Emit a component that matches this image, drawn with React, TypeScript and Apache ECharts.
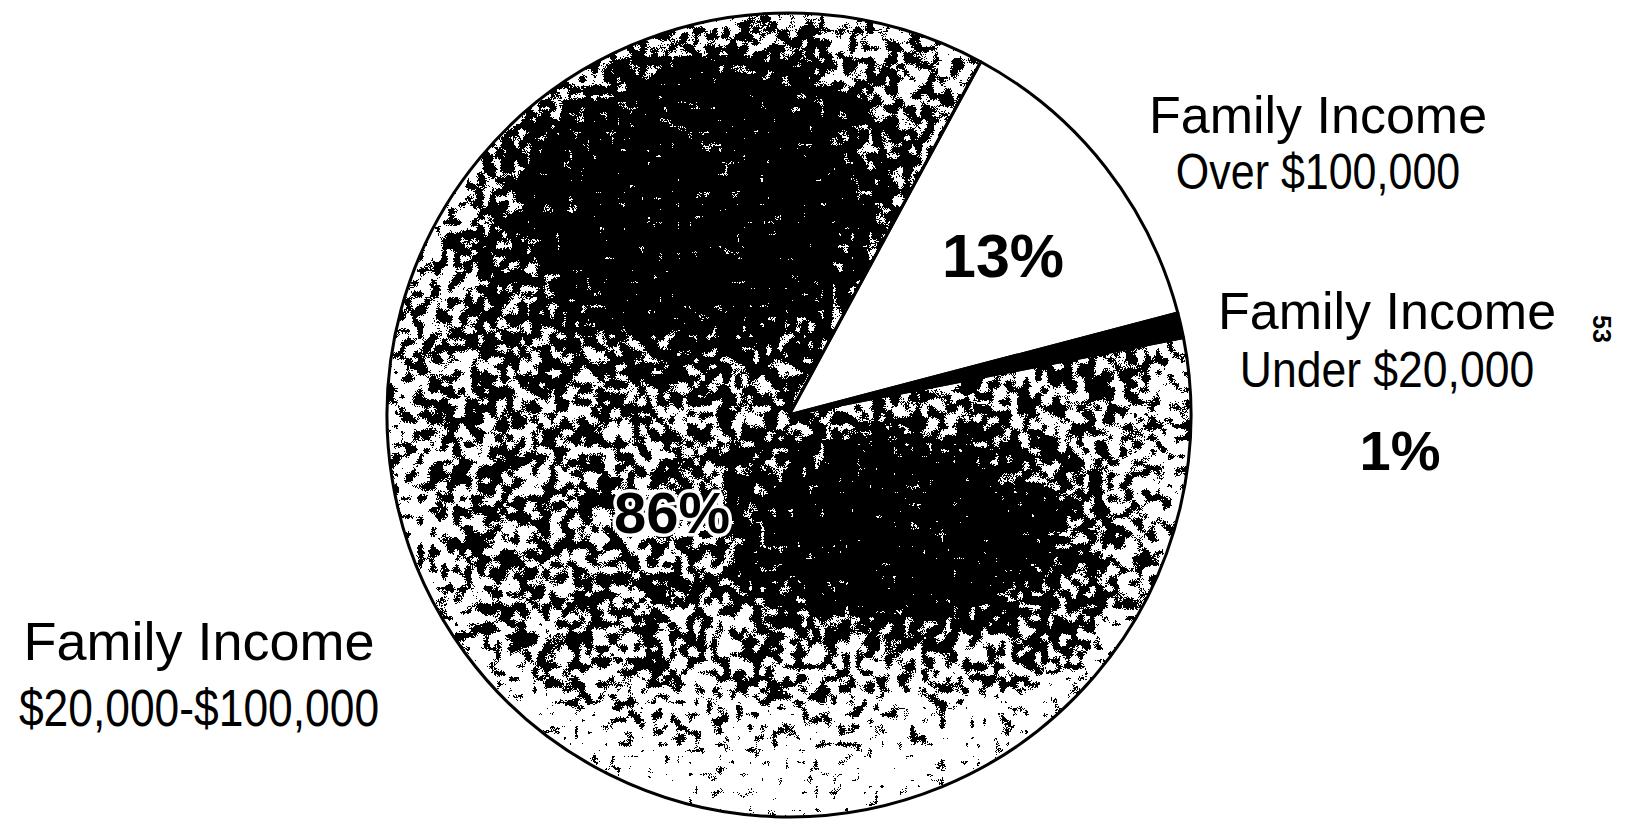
import React, { useEffect, useRef } from "react";
import * as echarts from "echarts";

// Income groups, clockwise from the upper-right wedge
const categories = [
  "Family Income Over $100,000",
  "Family Income Under $20,000",
  "Family Income $20,000-$100,000",
];
const shares = [13, 1, 86];

// Two-line captions for each group
const captionTop = ["Family Income", "Family Income", "Family Income"];
const captionBottom = ["Over $100,000", "Under $20,000", "$20,000-$100,000"];

const pageNumber = "53";

const W = 1642;
const H = 827;
const CX = 789;
const CY = 415;
const R = 402;

const smooth = (e0: number, e1: number, v: number) => {
  const t = Math.max(0, Math.min(1, (v - e0) / (e1 - e0)));
  return t * t * (3 - 2 * t);
};

// ink coverage wanted at a point of the halftone
function coverage(x: number, y: number, rr: number): number {
  const da = Math.hypot((x - 690) / 220, (y - 195) / 180);
  const db = Math.hypot((x - 895) / 185, (y - 530) / 112);
  let f =
    0.57 +
    0.5 * (1 - smooth(0.5, 1.3, da)) +
    0.46 * (1 - smooth(0.5, 1.3, db));
  f -= 0.47 * smooth(610, 770, y);
  f -= 0.3 * smooth(0.84, 1.0, rr);
  return Math.max(0.06, Math.min(0.985, f));
}

// Grainy halftone texture laid under the large wedge (deterministic LCG noise)
function makeStipple(w: number, h: number): HTMLCanvasElement {
  const c = document.createElement("canvas");
  c.width = w;
  c.height = h;
  const ctx = c.getContext("2d")!;
  const img = ctx.createImageData(w, h);
  let seed = 20240611;
  const rnd = () => {
    seed = (Math.imul(seed, 1664525) + 1013904223) >>> 0;
    return seed / 4294967296;
  };
  const cell = 6;
  const gw = Math.ceil(w / cell) + 2;
  const gh = Math.ceil(h / cell) + 2;
  const grid = new Float32Array(gw * gh);
  for (let i = 0; i < grid.length; i++) grid[i] = rnd();

  const noise = new Float32Array(w * h);
  const bins = 1000;
  const hist = new Float64Array(bins);
  let count = 0;
  for (let y = 0; y < h; y++) {
    const gy = y / cell;
    const iy = Math.floor(gy);
    const fy = gy - iy;
    for (let x = 0; x < w; x++) {
      const gx = x / cell;
      const ix = Math.floor(gx);
      const fx = gx - ix;
      const a = grid[iy * gw + ix];
      const b = grid[iy * gw + ix + 1];
      const cc = grid[(iy + 1) * gw + ix];
      const d = grid[(iy + 1) * gw + ix + 1];
      const vn = (a * (1 - fx) + b * fx) * (1 - fy) + (cc * (1 - fx) + d * fx) * fy;
      const n = 0.78 * vn + 0.22 * rnd();
      noise[y * w + x] = n;
      hist[Math.min(bins - 1, Math.floor(n * bins))]++;
      count++;
    }
  }
  // cumulative distribution, so a coverage maps to a threshold
  const cdf = new Float64Array(bins);
  let acc = 0;
  for (let i = 0; i < bins; i++) {
    acc += hist[i];
    cdf[i] = acc / count;
  }
  const thresholdFor = (f: number) => {
    let lo = 0;
    let hi = bins - 1;
    while (lo < hi) {
      const mid = (lo + hi) >> 1;
      if (cdf[mid] < f) lo = mid + 1;
      else hi = mid;
    }
    return (lo + 1) / bins;
  };

  for (let y = 0; y < h; y++) {
    for (let x = 0; x < w; x++) {
      const idx = (y * w + x) * 4;
      const rr = Math.hypot(x - CX, y - CY) / R;
      if (rr > 1.0) {
        img.data[idx + 3] = 0;
        continue;
      }
      const v = noise[y * w + x] < thresholdFor(coverage(x, y, rr)) ? 0 : 255;
      img.data[idx] = img.data[idx + 1] = img.data[idx + 2] = v;
      img.data[idx + 3] = 255;
    }
  }
  ctx.putImageData(img, 0, 0);
  return c;
}

export default function App() {
  const ref = useRef<HTMLDivElement>(null);

  useEffect(() => {
    if (!ref.current) return;
    const chart = echarts.init(ref.current, null, { renderer: "svg" });
    const stipple = makeStipple(W, H).toDataURL();

    // the large wedge is see-through so the texture beneath shows
    const sliceFills = ["#ffffff", "#000000", "rgba(0,0,0,0)"];
    const labelFonts = [
      { fontSize: 61 },
      { fontSize: 56 },
      { fontSize: 58, textBorderColor: "#ffffff", textBorderWidth: 7 },
    ];
    // label anchor points for the percentage figures
    const labelSpots = [
      [1003, 256],
      [1400, 450],
      [672, 512],
    ];

    const captionSpots = [
      { x: 1318, y1: 115, y2: 172, fs1: 52, fs2: 50, sx: 0.86 },
      { x: 1387, y1: 311, y2: 370, fs1: 52, fs2: 50, sx: 0.89 },
      { x: 199, y1: 641, y2: 708, fs1: 54, fs2: 51, sx: 0.87 },
    ];

    const graphics: any[] = [
      {
        type: "image",
        z: -10,
        silent: true,
        style: { image: stipple, x: 0, y: 0, width: W, height: H },
      },
    ];
    captionTop.forEach((t, i) => {
      const s = captionSpots[i];
      graphics.push({
        type: "text",
        x: s.x,
        y: s.y1,
        style: {
          text: t,
          font: `${s.fs1}px "Liberation Sans", Arial, sans-serif`,
          fill: "#000",
          textAlign: "center",
          textVerticalAlign: "middle",
        },
      });
      graphics.push({
        type: "text",
        x: s.x,
        y: s.y2,
        scaleX: s.sx,
        style: {
          text: captionBottom[i],
          font: `${s.fs2}px "Liberation Sans", Arial, sans-serif`,
          fill: "#000",
          textAlign: "center",
          textVerticalAlign: "middle",
        },
      });
    });
    graphics.push({
      type: "text",
      x: 1602,
      y: 329,
      rotation: -Math.PI / 2,
      style: {
        text: pageNumber,
        font: `bold 25px "Liberation Sans", Arial, sans-serif`,
        fill: "#000",
        textAlign: "center",
        textVerticalAlign: "middle",
      },
    });

    chart.setOption({
      animation: false,
      backgroundColor: "#ffffff",
      graphic: graphics,
      series: [
        {
          type: "pie",
          z: 5,
          center: [CX, CY],
          radius: R,
          startAngle: 61.5,
          clockwise: true,
          silent: true,
          labelLine: { show: false },
          emphasis: { disabled: true },
          itemStyle: { borderColor: "#000", borderWidth: 3 },
          label: {
            show: true,
            position: "inside",
            formatter: (p: any) => `${p.value}%`,
            color: "#000",
            fontWeight: "bold",
            fontFamily: '"Liberation Sans", Arial, sans-serif',
          },
          labelLayout: (p: any) => ({
            x: labelSpots[p.dataIndex][0],
            y: labelSpots[p.dataIndex][1],
            align: "center",
            verticalAlign: "middle",
          }),
          data: categories.map((name, i) => ({
            name,
            value: shares[i],
            itemStyle: { color: sliceFills[i] },
            label: labelFonts[i],
          })),
        },
      ],
    });

    return () => chart.dispose();
  }, []);

  return (
    <div
      ref={ref}
      style={{ position: "absolute", left: 0, top: 0, width: W, height: H }}
    />
  );
}
